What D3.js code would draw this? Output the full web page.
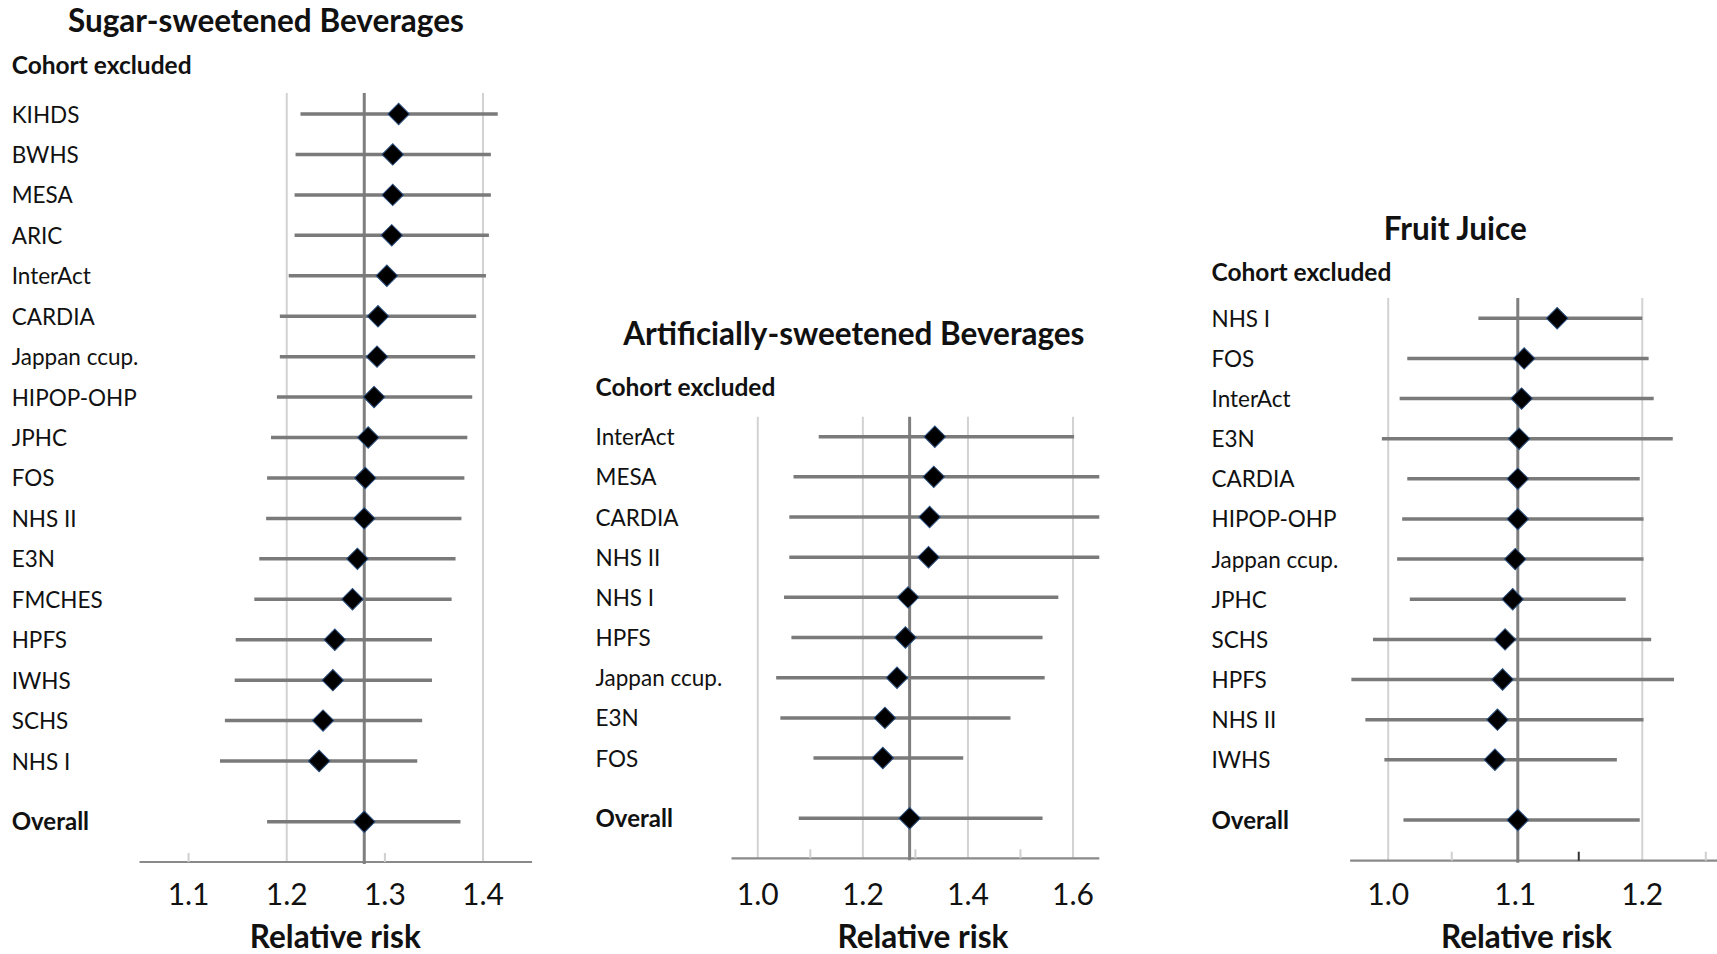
<!DOCTYPE html>
<html>
<head>
<meta charset="utf-8">
<script src="https://cdn.jsdelivr.net/npm/d3@7"></script>
<style>
  html, body { margin: 0; padding: 0; background: #ffffff; }
  svg { display: block; }
  text { font-family: Lato, "Open Sans", sans-serif; fill: #111111; }
</style>
</head>
<body>
<svg id="chart" width="1717" height="954"></svg>
<script>
// ---- Sugar-sweetened beverages: leave-one-out relative risks ----
const ssbCohorts = ["KIHDS", "BWHS", "MESA", "ARIC", "InterAct", "CARDIA", "Jappan ccup.", "HIPOP-OHP",
                    "JPHC", "FOS", "NHS II", "E3N", "FMCHES", "HPFS", "IWHS", "SCHS", "NHS I"];
const ssbRR    = [1.314, 1.308, 1.308, 1.307, 1.302, 1.293, 1.292, 1.289, 1.283, 1.280, 1.279, 1.272, 1.267, 1.249, 1.247, 1.237, 1.233];
const ssbLower = [1.214, 1.209, 1.208, 1.208, 1.202, 1.193, 1.193, 1.190, 1.184, 1.180, 1.179, 1.172, 1.167, 1.148, 1.147, 1.137, 1.132];
const ssbUpper = [1.415, 1.408, 1.408, 1.406, 1.403, 1.393, 1.392, 1.389, 1.384, 1.381, 1.378, 1.372, 1.368, 1.348, 1.348, 1.338, 1.333];
const ssbOverall = { rr: 1.279, lower: 1.180, upper: 1.377 };
const ssbTickLabels = [1.1, 1.2, 1.3, 1.4];
const ssbGridValues = [1.2, 1.4];
const ssbMinorTicks = [1.1, 1.3];

// ---- Artificially-sweetened beverages ----
const asbCohorts = ["InterAct", "MESA", "CARDIA", "NHS II", "NHS I", "HPFS", "Jappan ccup.", "E3N", "FOS"];
const asbRR    = [1.337, 1.335, 1.327, 1.325, 1.286, 1.281, 1.265, 1.242, 1.238];
const asbLower = [1.116, 1.068, 1.060, 1.060, 1.050, 1.064, 1.035, 1.043, 1.106];
const asbUpper = [1.602, 1.650, 1.650, 1.650, 1.572, 1.542, 1.546, 1.481, 1.391];
const asbOverall = { rr: 1.289, lower: 1.078, upper: 1.542 };
const asbTickLabels = [1.0, 1.2, 1.4, 1.6];
const asbGridValues = [1.0, 1.2, 1.4, 1.6];
const asbMinorTicks = [1.1, 1.3, 1.5];

// ---- Fruit juice ----
const fjCohorts = ["NHS I", "FOS", "InterAct", "E3N", "CARDIA", "HIPOP-OHP", "Jappan ccup.", "JPHC", "SCHS", "HPFS", "NHS II", "IWHS"];
const fjRR    = [1.133, 1.107, 1.105, 1.103, 1.102, 1.102, 1.100, 1.098, 1.092, 1.090, 1.086, 1.084];
const fjLower = [1.071, 1.015, 1.009, 0.995, 1.015, 1.011, 1.007, 1.017, 0.988, 0.971, 0.982, 0.997];
const fjUpper = [1.200, 1.205, 1.209, 1.224, 1.198, 1.201, 1.201, 1.187, 1.207, 1.225, 1.201, 1.180];
const fjOverall = { rr: 1.102, lower: 1.012, upper: 1.198 };
const fjTickLabels = [1.0, 1.1, 1.2];
const fjGridValues = [1.0, 1.2];
const fjMinorTicks = [1.05, 1.25];
const fjDarkTicks = [1.15];

// Panel layout: where each forest plot sits on the page
const panels = [
  {
    title: "Sugar-sweetened Beverages",
    cohorts: ssbCohorts, rr: ssbRR, lower: ssbLower, upper: ssbUpper, overall: ssbOverall,
    ticks: ssbTickLabels, grid: ssbGridValues, minor: ssbMinorTicks, dark: [],
    domain: [1.05, 1.45], range: [139.5, 532.1],
    rowTop: 114, overallY: 821.7, gridTop: 93, axisY: 862,
    labelX: 11.7, titleX: 265.9, titleY: 32, headY: 74, axisTitleX: 335.3
  },
  {
    title: "Artificially-sweetened Beverages",
    cohorts: asbCohorts, rr: asbRR, lower: asbLower, upper: asbUpper, overall: asbOverall,
    ticks: asbTickLabels, grid: asbGridValues, minor: asbMinorTicks, dark: [],
    domain: [0.95, 1.65], range: [731.5, 1099.3],
    rowTop: 436.7, overallY: 818.3, gridTop: 416.7, axisY: 858.3,
    labelX: 595.5, titleX: 853.8, titleY: 345, headY: 395.7, axisTitleX: 922.9
  },
  {
    title: "Fruit Juice",
    cohorts: fjCohorts, rr: fjRR, lower: fjLower, upper: fjUpper, overall: fjOverall,
    ticks: fjTickLabels, grid: fjGridValues, minor: fjMinorTicks, dark: fjDarkTicks,
    domain: [0.97, 1.27], range: [1350.1, 1731.2],
    rowTop: 318.3, overallY: 820, gridTop: 298, axisY: 860.7,
    labelX: 1211.5, titleX: 1455.2, titleY: 239.5, headY: 281, axisTitleX: 1526.4
  }
];

const svg = d3.select("#chart");
const diamond = d3.symbol().type(d3.symbolSquare).size(230);

panels.forEach(p => {
  const g = svg.append("g");
  const x = d3.scaleLinear().domain(p.domain).range(p.range).clamp(true);
  const n = p.cohorts.length;
  const y = d3.scaleLinear().domain([0, n + 0.5]).range([p.rowTop, p.overallY]);

  const rows = p.cohorts.map((c, i) => ({ label: c, rr: p.rr[i], lo: p.lower[i], hi: p.upper[i], y: y(i), bold: false }));
  rows.push({ label: "Overall", rr: p.overall.rr, lo: p.overall.lower, hi: p.overall.upper, y: y(n + 0.5), bold: true });

  // titles
  g.append("text").attr("x", p.titleX).attr("y", p.titleY)
    .attr("text-anchor", "middle").attr("font-weight", 700).attr("font-size", 31.5)
    .text(p.title);
  g.append("text").attr("x", p.labelX).attr("y", p.headY)
    .attr("font-weight", 700).attr("font-size", 24.5)
    .text("Cohort excluded");

  // vertical gridlines
  g.selectAll("line.grid").data(p.grid).join("line")
    .attr("class", "grid")
    .attr("x1", d => x(d)).attr("x2", d => x(d))
    .attr("y1", p.gridTop).attr("y2", p.axisY)
    .attr("stroke", "#d2d2d2").attr("stroke-width", 2);

  // x axis line, minor ticks and tick labels
  g.append("line")
    .attr("x1", p.range[0]).attr("x2", p.range[1])
    .attr("y1", p.axisY).attr("y2", p.axisY)
    .attr("stroke", "#8a8a8a").attr("stroke-width", 2.2);
  g.selectAll("line.minor").data(p.minor).join("line")
    .attr("class", "minor")
    .attr("x1", d => x(d)).attr("x2", d => x(d))
    .attr("y1", p.axisY - 9).attr("y2", p.axisY)
    .attr("stroke", "#cfcfcf").attr("stroke-width", 2);
  g.selectAll("line.dark").data(p.dark).join("line")
    .attr("class", "dark")
    .attr("x1", d => x(d)).attr("x2", d => x(d))
    .attr("y1", p.axisY - 9).attr("y2", p.axisY)
    .attr("stroke", "#333333").attr("stroke-width", 2);
  g.selectAll("text.tick").data(p.ticks).join("text")
    .attr("class", "tick")
    .attr("x", d => x(d)).attr("y", 905)
    .attr("text-anchor", "middle").attr("font-size", 30)
    .text(d => d3.format(".1f")(d));
  g.append("text").attr("x", p.axisTitleX).attr("y", 948)
    .attr("text-anchor", "middle").attr("font-weight", 700).attr("font-size", 31.5)
    .text("Relative risk");

  // reference line at the pooled estimate
  g.append("line")
    .attr("x1", x(p.overall.rr)).attr("x2", x(p.overall.rr))
    .attr("y1", p.gridTop).attr("y2", p.axisY + 2)
    .attr("stroke", "#7f7f7f").attr("stroke-width", 3);

  // row labels
  g.selectAll("text.row").data(rows).join("text")
    .attr("class", "row")
    .attr("x", p.labelX).attr("y", d => d.y + 8.5)
    .attr("font-size", d => d.bold ? 24 : 22.5).attr("font-weight", d => d.bold ? 700 : 400)
    .text(d => d.label);

  // confidence intervals
  g.selectAll("line.ci").data(rows).join("line")
    .attr("class", "ci")
    .attr("x1", d => x(d.lo)).attr("x2", d => x(d.hi))
    .attr("y1", d => d.y).attr("y2", d => d.y)
    .attr("stroke", "#7a7a7a").attr("stroke-width", 3.5);

  // point estimates
  g.selectAll("path.pt").data(rows).join("path")
    .attr("class", "pt")
    .attr("d", diamond)
    .attr("transform", d => `translate(${x(d.rr)},${d.y}) rotate(45)`)
    .attr("fill", "#000000")
    .attr("stroke", "#2b4f7e").attr("stroke-width", 1);
});
</script>
</body>
</html>
